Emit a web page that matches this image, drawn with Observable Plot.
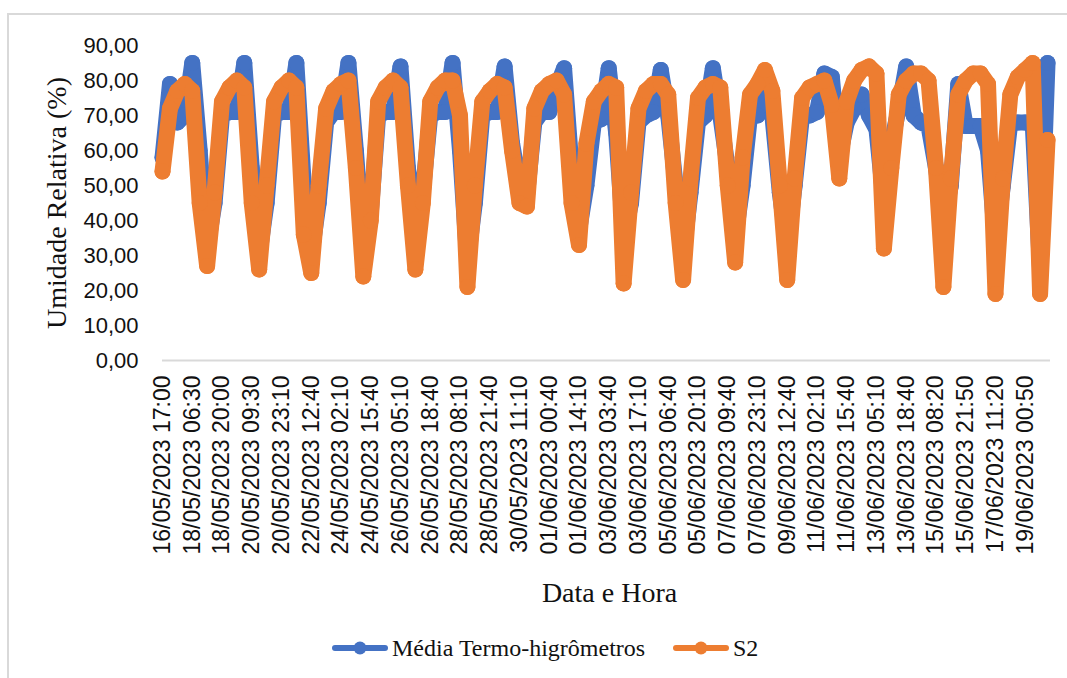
<!DOCTYPE html>
<html>
<head>
<meta charset="utf-8">
<script src="https://cdn.jsdelivr.net/npm/d3@7"></script>
<script src="https://cdn.jsdelivr.net/npm/@observablehq/plot@0.6"></script>
<style>
  html, body { margin: 0; padding: 0; background: #fff; }
  body { width: 1067px; height: 678px; overflow: hidden; position: relative; }
  #frame { position: absolute; left: 7px; top: 13px; width: 1100px; height: 700px;
           border-top: 2px solid #d9d9d9; border-left: 2px solid #d9d9d9; }
  #chart { position: absolute; left: 0; top: 0; }
  .legend-item { position: absolute; top: 634px; display: flex; align-items: center;
                 font-family: "Liberation Serif", "Times New Roman", serif; font-size: 24px; color: #111; }
  .legend-item svg { margin-right: 4px; }
</style>
</head>
<body>
<div id="frame"></div>
<div id="chart"></div>
<div id="legend"></div>
<script>
// Category labels shown along the time axis (one every 4 samples)
const tickLabels = [
  "16/05/2023 17:00", "18/05/2023 06:30", "18/05/2023 20:00", "20/05/2023 09:30",
  "20/05/2023 23:10", "22/05/2023 12:40", "24/05/2023 02:10", "24/05/2023 15:40",
  "26/05/2023 05:10", "26/05/2023 18:40", "28/05/2023 08:10", "28/05/2023 21:40",
  "30/05/2023 11:10", "01/06/2023 00:40", "01/06/2023 14:10", "03/06/2023 03:40",
  "03/06/2023 17:10", "05/06/2023 06:40", "05/06/2023 20:10", "07/06/2023 09:40",
  "07/06/2023 23:10", "09/06/2023 12:40", "11/06/2023 02:10", "11/06/2023 15:40",
  "13/06/2023 05:10", "13/06/2023 18:40", "15/06/2023 08:20", "15/06/2023 21:50",
  "17/06/2023 11:20", "19/06/2023 00:50"
];
const samplesPerLabel = 4;

// Relative humidity (%) – average of the thermo-hygrometers
const mediaTermo = [
  58, 79, 68, 70, 85, 60, 32, 45, 70, 71,
  71, 85, 55, 30, 45, 70, 71, 71, 85, 50,
  30, 45, 68, 71, 71, 85, 60, 32, 42, 70,
  71, 71, 84, 55, 40, 48, 70, 71, 71, 85,
  60, 28, 45, 70, 71, 71, 84, 62, 50, 47,
  68, 71, 71, 78, 83.5, 55, 37, 50, 68, 69,
  83.5, 65, 35, 45, 68, 70, 71, 83, 70, 50,
  30, 48, 68, 70, 83.5, 70, 55, 35, 50, 70,
  70, 80, 70, 48, 32, 50, 70, 70, 71, 82,
  81, 58, 68, 72, 76, 70, 66, 45, 62, 72,
  84, 70, 68, 67, 55, 40, 50, 79, 67, 67,
  67, 60, 33, 50, 68, 68, 68, 68, 26, 85
];

// Relative humidity (%) – sensor S2
const s2 = [
  54, 72, 77, 79, 77, 45, 27, 48, 74, 78,
  80, 78, 45, 26, 50, 74, 78, 80, 78, 36,
  25, 50, 72, 77, 79, 80, 55, 24, 40, 74,
  78, 80, 78, 50, 26, 45, 74, 78, 80, 80,
  70, 21, 50, 74, 77, 79, 78, 60, 45, 44,
  72, 77, 79, 80, 76, 45, 33, 62, 74, 77,
  79, 78, 22, 48, 72, 77, 79, 79, 76, 45,
  23, 52, 75, 78, 79, 78, 50, 28, 58, 76,
  79, 83, 77, 50, 23, 52, 75, 78, 79, 80,
  73, 52, 74, 80, 83, 84, 82, 32, 55, 76,
  80, 82, 82, 80, 55, 21, 52, 76, 80, 82,
  82, 79, 19, 52, 76, 81, 83, 85, 19, 63
];

const yTicks = [0, 10, 20, 30, 40, 50, 60, 70, 80, 90];

const blue = "#4472C4";
const orange = "#ED7D31";

const seriesMedia = mediaTermo.map((v, i) => ({i, v}));
const seriesS2 = s2.map((v, i) => ({i, v}));
const tickPositions = tickLabels.map((_, k) => k * samplesPerLabel);
const lastIndex = mediaTermo.length - 1;

const fmt = (d) => d.toFixed(2).replace(".", ",");

// Thick line + round markers, like a densely sampled line-with-markers series
function series(data, color) {
  return [
    Plot.line(data, {x: "i", y: "v", stroke: color, strokeWidth: 16,
                     strokeLinejoin: "round", strokeLinecap: "round"}),
    Plot.dot(data, {x: "i", y: "v", r: 8, fill: color})
  ];
}

const serif = "'Liberation Serif', 'Times New Roman', serif";

const chart = Plot.plot({
  width: 1067,
  height: 620,
  marginLeft: 162,
  marginRight: 17,
  marginTop: 45,
  marginBottom: 260,
  style: {fontFamily: "'Liberation Sans', Arial, sans-serif", fontSize: "22px", color: "#111", background: "transparent"},
  x: {domain: [0, lastIndex + 0.4]},
  y: {domain: [0, 90]},
  marks: [
    Plot.axisY({ticks: yTicks, tickFormat: fmt, tickSize: 0, tickPadding: 24, label: null, fontSize: 22}),
    Plot.axisX({ticks: tickPositions, tickFormat: (d) => tickLabels[d / samplesPerLabel],
                tickRotate: -90, tickSize: 0, tickPadding: 15, label: null, fontSize: 23}),
    Plot.ruleY([0], {stroke: "#d9d9d9", strokeWidth: 2}),
    ...series(seriesMedia, blue),
    ...series(seriesS2, orange),
    Plot.text(["Umidade Relativa (%)"], {frameAnchor: "left", dx: -105, rotate: -90,
               textAnchor: "middle", lineAnchor: "middle",
               fontSize: 28, fontFamily: serif, fill: "#111"}),
    Plot.text(["Data e Hora"], {frameAnchor: "bottom", dy: 233, dx: 3,
               textAnchor: "middle", lineAnchor: "middle",
               fontSize: 28, fontFamily: serif, fill: "#111"})
  ]
});
document.getElementById("chart").appendChild(chart);

// Legend below the chart
const legendEntries = [
  {name: "Média Termo-higrômetros", color: blue, left: 332},
  {name: "S2", color: orange, left: 673}
];
const legend = d3.select("#legend");
for (const e of legendEntries) {
  const item = legend.append("div").attr("class", "legend-item").style("left", e.left + "px");
  const sw = item.append("svg").attr("width", 56).attr("height", 28);
  sw.append("line").attr("x1", 3).attr("x2", 53).attr("y1", 14).attr("y2", 14)
    .attr("stroke", e.color).attr("stroke-width", 6).attr("stroke-linecap", "round");
  sw.append("circle").attr("cx", 28).attr("cy", 14).attr("r", 6.5).attr("fill", e.color);
  item.append("span").text(e.name);
}
</script>
</body>
</html>
